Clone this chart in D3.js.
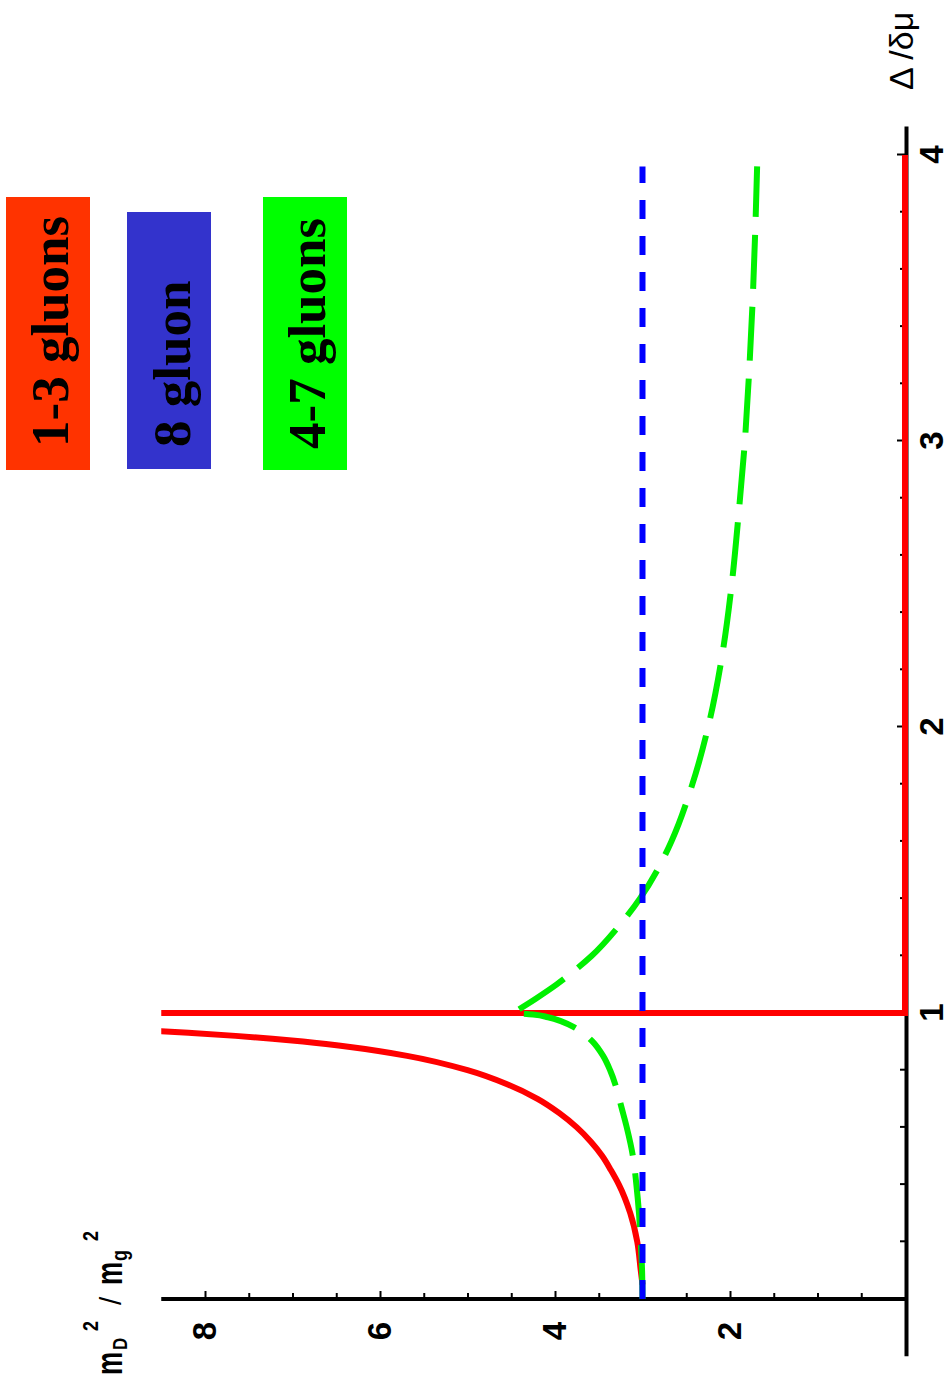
<!DOCTYPE html>
<html>
<head>
<meta charset="utf-8">
<script src="https://cdn.jsdelivr.net/npm/d3@7"></script>
<style>
  html, body { margin: 0; padding: 0; background: #ffffff; }
  svg { display: block; }
</style>
</head>
<body>
<svg id="chart" width="951" height="1389"></svg>
<script>
// Axis ticks
const deltaTicks = [1, 2, 3, 4];
const massTicks = [2, 4, 6, 8];

// Gluons 1-3: diverges as Δ/δμ -> 1, drops to zero above it
const redDelta = [0.05, 0.1, 0.2, 0.3, 0.4, 0.45, 0.5, 0.55, 0.6, 0.65, 0.7, 0.75, 0.8, 0.85, 0.88, 0.9, 0.91, 0.92, 0.93, 0.936, 0.97, 0.99, 0.9995, 1.0, 4.0];
const redMass  = [3.00, 3.02, 3.06, 3.14, 3.27, 3.36, 3.46, 3.59, 3.75, 3.95, 4.20, 4.54, 5.00, 5.69, 6.32, 6.88, 7.23, 7.65, 8.15, 8.50, 12.3, 21.3, 95.0, 0.0, 0.0];

// Gluon 8: constant
const blueDelta = [0.0, 3.96];
const blueMass  = [3.0, 3.0];

// Gluons 4-7: rising branch below Δ/δμ = 1, falling branch above, meeting in a cusp
const greenLowDelta = [0.0, 0.1, 0.2, 0.3, 0.4, 0.5, 0.6, 0.67, 0.74, 0.8, 0.85, 0.9, 0.93, 0.95, 0.97, 0.985, 0.995, 1.0];
const greenLowMass  = [3.00, 3.005, 3.02, 3.04, 3.07, 3.11, 3.18, 3.24, 3.30, 3.37, 3.45, 3.57, 3.68, 3.78, 3.92, 4.08, 4.25, 4.48];
const greenHighDelta = [1.0, 1.05, 1.1, 1.15, 1.2, 1.3, 1.4, 1.5, 1.6, 1.8, 2.0, 2.25, 2.5, 2.75, 3.0, 3.25, 3.5, 3.75, 3.96];
const greenHighMass  = [4.48, 4.22, 3.98, 3.77, 3.58, 3.28, 3.03, 2.83, 2.67, 2.43, 2.25, 2.09, 1.98, 1.90, 1.83, 1.78, 1.74, 1.71, 1.69];

// Legend
const legendLabels = ["1-3 gluons", "8 gluon", "4-7 gluons"];
const legendColors = ["#ff3300", "#3333cc", "#00ff00"];

const W = 951, H = 1389;
const svg = d3.select("#chart");
svg.append("rect").attr("width", W).attr("height", H).attr("fill", "#ffffff");

// The plot is laid out in a normal frame and turned a quarter turn counter-clockwise
const plot = svg.append("g").attr("transform", `translate(0,${H}) rotate(-90)`);

const x = d3.scaleLinear().domain([0, 4]).range([90, 1234]);   // Δ/δμ
const y = d3.scaleLinear().domain([0, 8]).range([905, 205]);   // m_D^2 / m_g^2

svg.append("defs").append("clipPath").attr("id", "plotClip")
  .append("rect")
  .attr("x", 0).attr("width", H)
  .attr("y", y(8.5)).attr("height", W - y(8.5));

const tickFont = "'Liberation Sans', Arial, sans-serif";

// Axis lines
plot.append("line")
  .attr("x1", x(-0.2)).attr("x2", x(4.1))
  .attr("y1", y(0) + 1.5).attr("y2", y(0) + 1.5)
  .attr("stroke", "#000").attr("stroke-width", 4);
plot.append("line")
  .attr("x1", x(0)).attr("x2", x(0))
  .attr("y1", y(0)).attr("y2", y(8.5))
  .attr("stroke", "#000").attr("stroke-width", 4);

function styleAxis(g) {
  g.select(".domain").remove();
  g.selectAll(".tick line").attr("stroke", "#000").attr("stroke-width", 2);
  g.selectAll(".tick text")
    .attr("fill", "#000")
    .style("font-family", tickFont)
    .style("font-weight", "bold")
    .style("font-size", "33px");
}

// Δ/δμ axis: labelled integers, minor ticks every 0.2
const deltaMinor = d3.range(0.2, 4.01, 0.2).filter(v => Math.abs(v - Math.round(v)) > 1e-6);
plot.append("g").attr("transform", `translate(0,${y(0)})`)
  .call(d3.axisBottom(x).tickValues(deltaMinor).tickSize(-5).tickFormat(""))
  .call(styleAxis);
plot.append("g").attr("transform", `translate(0,${y(0)})`)
  .call(d3.axisBottom(x).tickValues(deltaTicks).tickSize(-8).tickPadding(15).tickFormat(d3.format("d")))
  .call(styleAxis);

// mass axis: labelled even values, minor ticks every 0.5
const massMinor = d3.range(0.5, 8.01, 0.5).filter(v => Math.abs(v / 2 - Math.round(v / 2)) > 1e-6);
plot.append("g").attr("transform", `translate(${x(0)},0)`)
  .call(d3.axisLeft(y).tickValues(massMinor).tickSize(-6).tickFormat(""))
  .call(styleAxis);
plot.append("g").attr("transform", `translate(${x(0)},0)`)
  .call(d3.axisLeft(y).tickValues(massTicks).tickSize(-8).tickPadding(23).tickFormat(d3.format("d")))
  .call(styleAxis);

// Curves
const smooth = d3.line().x(d => x(d[0])).y(d => y(d[1])).curve(d3.curveMonotoneX);
const straight = d3.line().x(d => x(d[0])).y(d => y(d[1]));
const curves = plot.append("g").attr("clip-path", "url(#plotClip)");

curves.append("path")
  .datum(d3.zip(redDelta, redMass))
  .attr("d", smooth)
  .attr("fill", "none")
  .attr("stroke", "#ff0000")
  .attr("stroke-width", 6)
  .attr("stroke-linejoin", "miter");

// both green branches in one path so the dash pattern runs through the cusp
const greenPath = smooth(d3.zip(greenLowDelta, greenLowMass)) +
                  smooth(d3.zip(greenHighDelta, greenHighMass)).replace(/^M/, "L");
curves.append("path")
  .attr("d", greenPath)
  .attr("fill", "none")
  .attr("stroke", "#00f000")
  .attr("stroke-width", 6)
  .attr("stroke-dasharray", "54,18");

curves.append("path")
  .datum(d3.zip(blueDelta, blueMass))
  .attr("d", straight)
  .attr("fill", "none")
  .attr("stroke", "#0000ff")
  .attr("stroke-width", 6)
  .attr("stroke-dasharray", "19,17");

// Axis titles
svg.append("text")
  .attr("transform", "translate(913,90) rotate(-90)")
  .style("font-family", tickFont)
  .style("font-size", "34px")
  .attr("fill", "#000")
  .text("Δ /δμ");

const yTitle = svg.append("g").attr("transform", "translate(122,1375) rotate(-90)")
  .style("font-family", tickFont).attr("fill", "#000");
const titleParts = [
  { t: "m", x: 0,   y: 0,   size: 26, sy: 1.4, weight: "bold" },
  { t: "D", x: 25,  y: 5,   size: 17, sy: 1.2, weight: "bold" },
  { t: "2", x: 44,  y: -24, size: 18, sy: 1.2, weight: "bold" },
  { t: "/", x: 70,  y: -1,  size: 30, sy: 1.0, weight: "normal" },
  { t: "m", x: 90,  y: 0,   size: 26, sy: 1.4, weight: "bold" },
  { t: "g", x: 114, y: 5,   size: 18, sy: 1.2, weight: "bold" },
  { t: "2", x: 134, y: -24, size: 18, sy: 1.2, weight: "bold" }
];
yTitle.selectAll("text").data(titleParts).join("text")
  .attr("transform", d => `translate(${d.x},${d.y}) scale(1,${d.sy})`)
  .style("font-size", d => d.size + "px")
  .style("font-weight", d => d.weight)
  .text(d => d.t);

// Legend boxes with rotated captions
const legendBoxes = [
  { x: 6,   y: 197, w: 84, h: 273, base: 68,  start: 447 },
  { x: 127, y: 212, w: 84, h: 257, base: 190, start: 447 },
  { x: 263, y: 197, w: 84, h: 273, base: 325, start: 449 }
];
const legend = svg.append("g");
legendBoxes.forEach((b, i) => {
  legend.append("rect")
    .attr("x", b.x).attr("y", b.y).attr("width", b.w).attr("height", b.h)
    .attr("fill", legendColors[i]);
  legend.append("text")
    .attr("transform", `translate(${b.base},${b.start}) rotate(-90)`)
    .style("font-family", "'Liberation Serif', 'Times New Roman', serif")
    .style("font-weight", "bold")
    .style("font-size", "53px")
    .attr("fill", "#000")
    .text(legendLabels[i]);
});
</script>
</body>
</html>
